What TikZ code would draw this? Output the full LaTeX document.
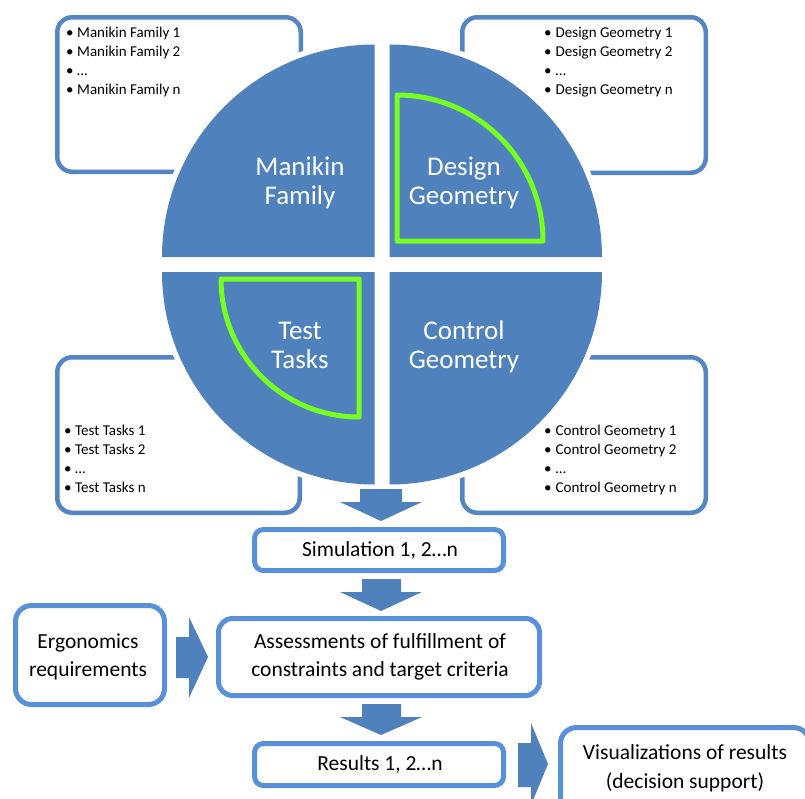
\documentclass[tikz,border=0pt]{standalone}
\usepackage{fontspec}
\setmainfont{Carlito}
\definecolor{qblue}{RGB}{79,129,189}
\definecolor{sideblue}{RGB}{84,134,196}
\definecolor{boxblue}{RGB}{88,145,218}
\definecolor{limegreen}{RGB}{118,255,32}
\begin{document}
\begin{tikzpicture}[x=1pt,y=-1pt,
  sidebox/.style={draw=sideblue, line width=4.5pt, rounded corners=15pt, fill=white, inner sep=0pt},
  flowbox/.style={draw=boxblue, line width=5pt, rounded corners=9pt, fill=white, inner sep=0pt},
  bul/.style={anchor=base west, inner sep=0pt, font=\fontsize{15}{18}\selectfont},
  qlabel/.style={anchor=base, inner sep=0pt, text=white, font=\fontsize{27}{29}\selectfont},
  flowtext/.style={anchor=base, inner sep=0pt, font=\fontsize{21.5}{26}\selectfont},
  halo/.style={draw=white, fill=white, line width=11pt, line join=round},
  quad/.style={fill=qblue},
  hl/.style={draw=limegreen, line width=5pt, line join=round},
  blockarrow/.style={fill=qblue}
]
\clip (0,0) rectangle (805,798);
\fill[white] (0,0) rectangle (805,798);

% side boxes
\node[sidebox, minimum width=243.5pt, minimum height=154.5pt] (mfbox) at (179,94.5) {};
\node[sidebox, minimum width=243.5pt, minimum height=155.5pt] (dgbox) at (584,95) {};
\node[sidebox, minimum width=242.5pt, minimum height=155.5pt] (ttbox) at (178.5,435) {};
\node[sidebox, minimum width=243.5pt, minimum height=155.5pt] (cgbox) at (584,435) {};

% bullet texts
\node[bul] (mfa) at (66,37) {\makebox[11pt][l]{\textbullet}Manikin Family 1};
\node[bul] (mfb) at (66,56) {\makebox[11pt][l]{\textbullet}Manikin Family 2};
\node[bul] (mfc) at (66,75) {\makebox[11pt][l]{\textbullet}…};
\node[bul] (mfd) at (66,94) {\makebox[11pt][l]{\textbullet}Manikin Family n};

\node[bul] (dga) at (544,37) {\makebox[11.5pt][l]{\textbullet}Design Geometry 1};
\node[bul] (dgb) at (544,56) {\makebox[11.5pt][l]{\textbullet}Design Geometry 2};
\node[bul] (dgc) at (544,75) {\makebox[11.5pt][l]{\textbullet}…};
\node[bul] (dgd) at (544,94) {\makebox[11.5pt][l]{\textbullet}Design Geometry n};

\node[bul] (tta) at (64,435) {\makebox[11pt][l]{\textbullet}Test Tasks 1};
\node[bul] (ttb) at (64,454) {\makebox[11pt][l]{\textbullet}Test Tasks 2};
\node[bul] (ttc) at (64,473) {\makebox[11pt][l]{\textbullet}…};
\node[bul] (ttd) at (64,492) {\makebox[11pt][l]{\textbullet}Test Tasks n};

\node[bul] (cga) at (544,435) {\makebox[11.5pt][l]{\textbullet}Control Geometry 1};
\node[bul] (cgb) at (544,454) {\makebox[11.5pt][l]{\textbullet}Control Geometry 2};
\node[bul] (cgc) at (544,473) {\makebox[11.5pt][l]{\textbullet}…};
\node[bul] (cgd) at (544,492) {\makebox[11.5pt][l]{\textbullet}Control Geometry n};

% circle halos
\path[halo] (374.5,257) -- (162,257) arc[start angle=180,end angle=270,radius=212.5] -- cycle;
\path[halo] (389.5,257) -- (389.5,44.5) arc[start angle=270,end angle=360,radius=212.5] -- cycle;
\path[halo] (389.5,272) -- (602,272) arc[start angle=0,end angle=90,radius=212.5] -- cycle;
\path[halo] (374.5,272) -- (374.5,484.5) arc[start angle=90,end angle=180,radius=212.5] -- cycle;
% quadrants
\path[quad] (374.5,257) -- (162,257) arc[start angle=180,end angle=270,radius=212.5] -- cycle;
\path[quad] (389.5,257) -- (389.5,44.5) arc[start angle=270,end angle=360,radius=212.5] -- cycle;
\path[quad] (389.5,272) -- (602,272) arc[start angle=0,end angle=90,radius=212.5] -- cycle;
\path[quad] (374.5,272) -- (374.5,484.5) arc[start angle=90,end angle=180,radius=212.5] -- cycle;

% green highlights
\draw[hl] (397,241) -- (397,95) arc[start angle=270,end angle=360,radius=146] -- cycle;
\draw[hl] (359,279) -- (221,279) arc[start angle=180,end angle=90,radius=138] -- cycle;

% quadrant labels
\node[qlabel] (mfl1) at (300,175.7) {Manikin};
\node[qlabel] (mfl2) at (300,204) {Family};
\node[qlabel] (dgl1) at (464,175.7) {Design};
\node[qlabel] (dgl2) at (464,204) {Geometry};
\node[qlabel] (ttl1) at (300,339.3) {Test};
\node[qlabel] (ttl2) at (300,368.3) {Tasks};
\node[qlabel] (cgl1) at (464,339.3) {Control};
\node[qlabel] (cgl2) at (464,368.3) {Geometry};

% flow boxes
\node[flowbox, minimum width=249pt, minimum height=41pt] (sim) at (379,550) {};
\node[flowbox, rounded corners=14pt, minimum width=321pt, minimum height=77pt] (assess) at (379,657) {};
\node[flowbox, rounded corners=16pt, minimum width=149pt, minimum height=99pt] (ergo) at (90,655) {};
\node[flowbox, minimum width=249pt, minimum height=42pt] (res) at (379,764.5) {};
\node[flowbox, rounded corners=16pt, minimum width=249pt, minimum height=100pt] (vis) at (685,777.5) {};

\node[flowtext] (simt) at (380,556) {Simulation 1, 2…n};
\node[flowtext] (as1) at (380,648.3) {Assessments of fulfillment of};
\node[flowtext] (as2) at (380,676.7) {constraints and target criteria};
\node[flowtext] (er1) at (88,648.3) {Ergonomics};
\node[flowtext] (er2) at (88,676.7) {requirements};
\node[flowtext] (rest) at (380,770.7) {Results 1, 2…n};
\node[flowtext] (vi1) at (685,759.3) {Visualizations of results};
\node[flowtext] (vi2) at (685,788.3) {(decision support)};

% block arrows
\path[blockarrow] (360,489) -- (402,489) -- (402,502) -- (422,502) -- (381,521) -- (340,502) -- (360,502) -- cycle;
\path[blockarrow] (362,579) -- (401,579) -- (401,592) -- (422,592) -- (381,611) -- (340,592) -- (362,592) -- cycle;
\path[blockarrow] (362,704) -- (401,704) -- (401,717) -- (422,717) -- (381,735) -- (340,717) -- (362,717) -- cycle;
\path[blockarrow] (176,637) -- (189,637) -- (189,617) -- (208,657) -- (189,698) -- (189,678) -- (176,678) -- cycle;
\path[blockarrow] (518,743) -- (531,743) -- (531,723) -- (548,764) -- (531,805) -- (531,787) -- (518,787) -- cycle;
\end{tikzpicture}
\end{document}
